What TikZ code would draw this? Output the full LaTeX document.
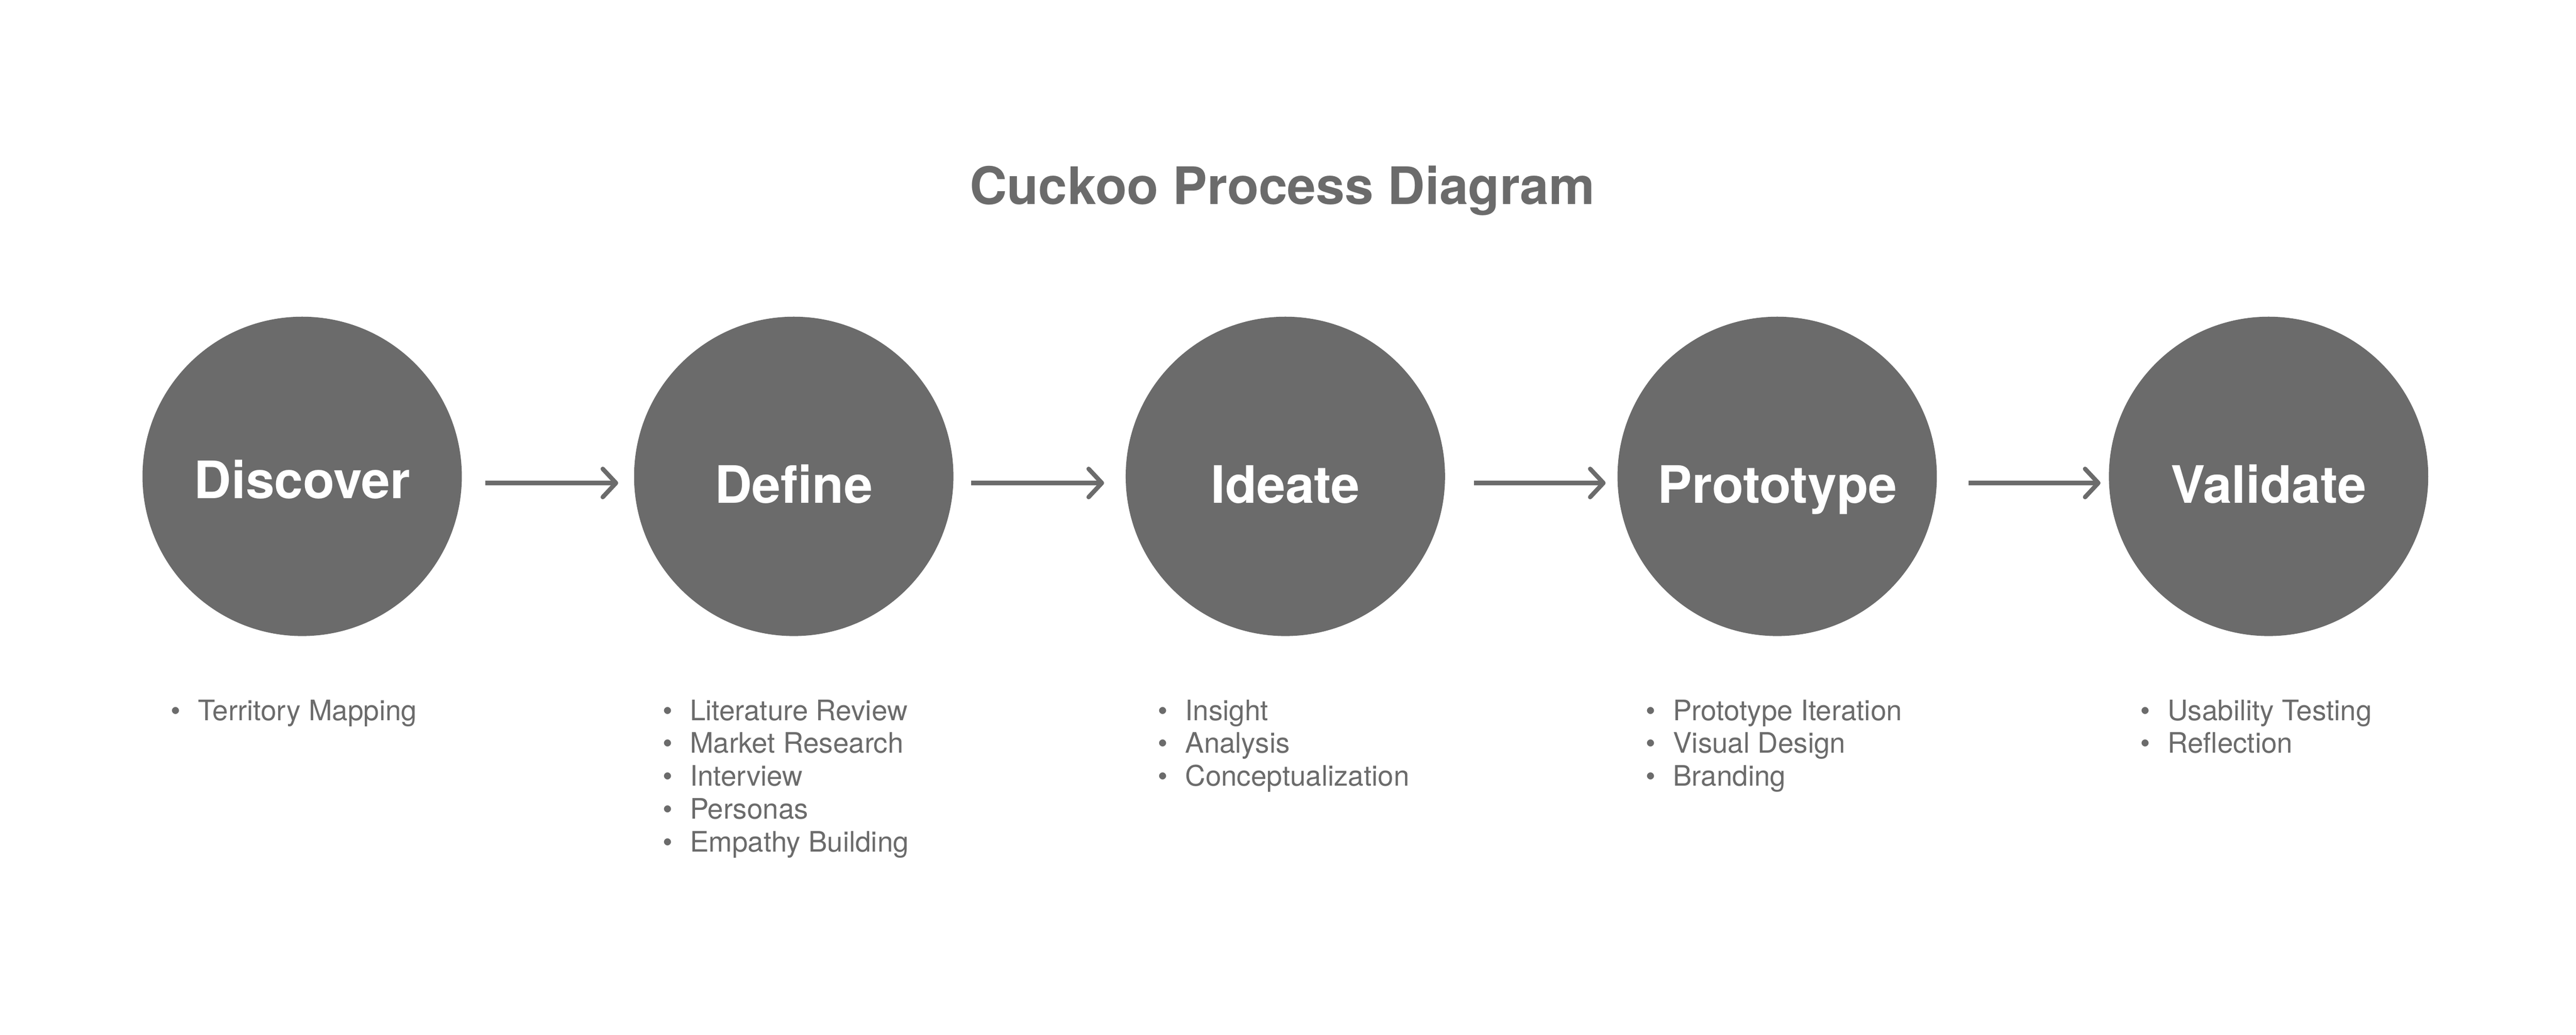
\documentclass[tikz,border=0pt]{standalone}
\usepackage{fontspec}
\setmainfont{TeX Gyre Heros}
\usetikzlibrary{arrows.meta}
\definecolor{stagegray}{RGB}{107,107,107}

\begin{document}
\begin{tikzpicture}[line width = 0.1cm,
                      stage/.style = {circle, fill = stagegray, minimum size = 7.24cm, inner sep = 0pt},
                      stagename/.style = {anchor = base, text = white, inner sep = 0pt, font = \bfseries\fontsize{33.3}{40}\selectfont},
                      item/.style = {anchor = base west, text = stagegray, inner sep = 0pt, font = \fontsize{18.2}{21.4}\selectfont},
                      arr/.style = {draw = stagegray, -{Straight Barb[length = 0.3cm, width = 0.64cm, round]}}]
    \useasboundingbox (0, 0) rectangle (58.4, -23.46);
    \node [anchor = base, text = stagegray, inner sep = 0pt, font = \bfseries\fontsize{33.3}{40}\selectfont] (title) at (29.07, -4.63) {Cuckoo Process Diagram};
    \node [stage] (discover) at (6.85, -10.8){};
    \node [stage] (define) at (17.995, -10.8){};
    \node [stage] (ideate) at (29.14, -10.8){};
    \node [stage] (prototype) at (40.29, -10.8){};
    \node [stage] (validate) at (51.43, -10.8){};
    \node [stagename] (discovername) at ([yshift = -0.5cm]discover.center) {Discover};
    \node [stagename] (definename) at ([yshift = -0.6cm]define.center) {Define};
    \node [stagename] (ideatename) at ([yshift = -0.6cm]ideate.center) {Ideate};
    \node [stagename] (prototypename) at ([yshift = -0.6cm]prototype.center) {Prototype};
    \node [stagename] (validatename) at ([yshift = -0.6cm]validate.center) {Validate};
    \draw [arr] ([shift = {(0.48, -0.15)}]discover.east) -- ([shift = {(-0.31, -0.15)}]define.west);
    \draw [arr] ([shift = {(0.355, -0.15)}]define.east) -- ([shift = {(-0.44, -0.15)}]ideate.west);
    \draw [arr] ([shift = {(0.61, -0.15)}]ideate.east) -- ([shift = {(-0.22, -0.15)}]prototype.west);
    \draw [arr] ([shift = {(0.67, -0.15)}]prototype.east) -- ([shift = {(-0.14, -0.15)}]validate.west);
    \node [item] (d1) at (4.44, -16.33) {\llap{\textbullet\hspace{0.39cm}}Territory Mapping};
    \node [item] (f1) at (15.59, -16.33) {\llap{\textbullet\hspace{0.39cm}}Literature Review};
    \node [item] (f2) at (15.59, -17.075) {\llap{\textbullet\hspace{0.39cm}}Market Research};
    \node [item] (f3) at (15.59, -17.82) {\llap{\textbullet\hspace{0.39cm}}Interview};
    \node [item] (f4) at (15.59, -18.565) {\llap{\textbullet\hspace{0.39cm}}Personas};
    \node [item] (f5) at (15.59, -19.31) {\llap{\textbullet\hspace{0.39cm}}Empathy Building};
    \node [item] (i1) at (26.82, -16.33) {\llap{\textbullet\hspace{0.39cm}}Insight};
    \node [item] (i2) at (26.82, -17.075) {\llap{\textbullet\hspace{0.39cm}}Analysis};
    \node [item] (i3) at (26.82, -17.82) {\llap{\textbullet\hspace{0.39cm}}Conceptualization};
    \node [item] (p1) at (37.88, -16.33) {\llap{\textbullet\hspace{0.39cm}}Prototype Iteration};
    \node [item] (p2) at (37.88, -17.075) {\llap{\textbullet\hspace{0.39cm}}Visual Design};
    \node [item] (p3) at (37.88, -17.82) {\llap{\textbullet\hspace{0.39cm}}Branding};
    \node [item] (v1) at (49.09, -16.33) {\llap{\textbullet\hspace{0.39cm}}Usability Testing};
    \node [item] (v2) at (49.09, -17.075) {\llap{\textbullet\hspace{0.39cm}}Reflection};
    \end{tikzpicture}
\end{document}
